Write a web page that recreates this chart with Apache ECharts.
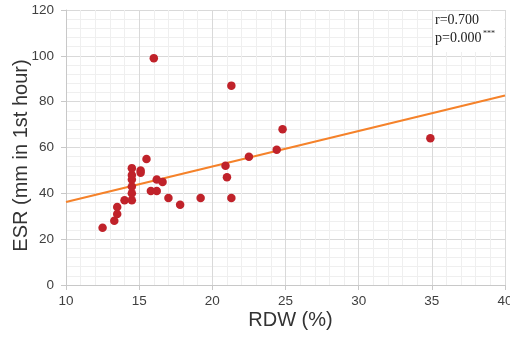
<!DOCTYPE html>
<html>
<head>
<meta charset="utf-8">
<script src="https://cdn.jsdelivr.net/npm/echarts@6/dist/echarts.min.js"></script>
<style>
html,body{margin:0;padding:0;background:#fff}
#chart{width:510px;height:341px}
</style>
</head>
<body>
<div id="chart"></div>
<script>
// RDW (%) vs ESR (mm in 1st hour)
const rdw = [12.5,13.3,13.5,13.5,14.0,14.5,14.5,14.5,14.5,14.5,14.5,15.1,15.1,15.5,15.8,16.2,16.2,16.6,17.0,17.8,19.2,20.9,21.0,21.3,22.5,16.0,21.3,24.4,24.8,34.9];
const esr = [25,28,31,34,37,37,40,43,46,48,51,50,49,55,41,41,46,45,38,35,38,52,47,38,56,99,87,59,68,64];
const trendX = [10,40];
const trendY = [36.2,82.7];
const xTicks = {min:10,max:40,step:5};
const yTicks = {min:0,max:120,step:20};
const statLines = ['r=0.700','p=0.000'];
const stars = '***';

const pts = rdw.map((x,i)=>[x,esr[i]]);
const trend = trendX.map((x,i)=>[x,trendY[i]]);

const lab = {color:'#404040',fontSize:13.5,fontFamily:'"Liberation Sans Narrow","Liberation Sans",sans-serif'};
const grid = {left:66,right:5,top:10,bottom:56,outerBoundsMode:'none'};

const c = echarts.init(document.getElementById('chart'));
c.setOption({
  animation:false,
  grid,
  xAxis:{type:'value',min:xTicks.min,max:xTicks.max,interval:xTicks.step,
    name:'RDW (%)',nameLocation:'middle',nameGap:25,nameMoveOverlap:false,
    nameTextStyle:{fontSize:20,color:'#333',fontFamily:'"Liberation Sans",Arial,sans-serif',padding:[0,0,0,10]},
    axisLine:{show:true,lineStyle:{color:'#c8c8c8'}},
    axisTick:{show:true,length:5,lineStyle:{color:'#c8c8c8'}},
    axisLabel:Object.assign({margin:9},lab),
    splitLine:{show:true,lineStyle:{color:'#d9d9d9'}},
    minorTick:{show:false,splitNumber:5},
    minorSplitLine:{show:true,lineStyle:{color:'#efefef'}}
  },
  yAxis:{type:'value',min:yTicks.min,max:yTicks.max,interval:yTicks.step,
    name:'ESR (mm in 1st hour)',nameLocation:'middle',nameGap:35,nameMoveOverlap:false,
    nameTextStyle:{fontSize:20,color:'#333',fontFamily:'"Liberation Sans",Arial,sans-serif',padding:[0,16,0,0]},
    axisLine:{show:true,lineStyle:{color:'#c8c8c8'}},
    axisTick:{show:true,length:5,lineStyle:{color:'#c8c8c8'}},
    axisLabel:Object.assign({margin:12},lab),
    splitLine:{show:true,lineStyle:{color:'#d9d9d9'}},
    minorTick:{show:false,splitNumber:5},
    minorSplitLine:{show:true,lineStyle:{color:'#efefef'}}
  },
  graphic:[
    {type:'rect',left:433,top:11,shape:{width:71,height:41},style:{fill:'#fff'},z:5},
    {type:'text',left:435,top:13,z:6,style:{text:statLines[0],font:'14px "Liberation Serif",serif',fill:'#222'}},
    {type:'text',left:435,top:31,z:6,style:{text:statLines[1],font:'14px "Liberation Serif",serif',fill:'#222'}},
    {type:'text',left:483,top:30,z:6,style:{text:stars,font:'8px "Liberation Serif",serif',fill:'#222'}}
  ],
  series:[
    {type:'line',data:trend,symbol:'none',lineStyle:{color:'#f5822a',width:2.2},z:3},
    {type:'scatter',data:pts,symbolSize:8.5,itemStyle:{color:'#c0222a',opacity:1},z:4}
  ]
});
</script>
</body>
</html>
